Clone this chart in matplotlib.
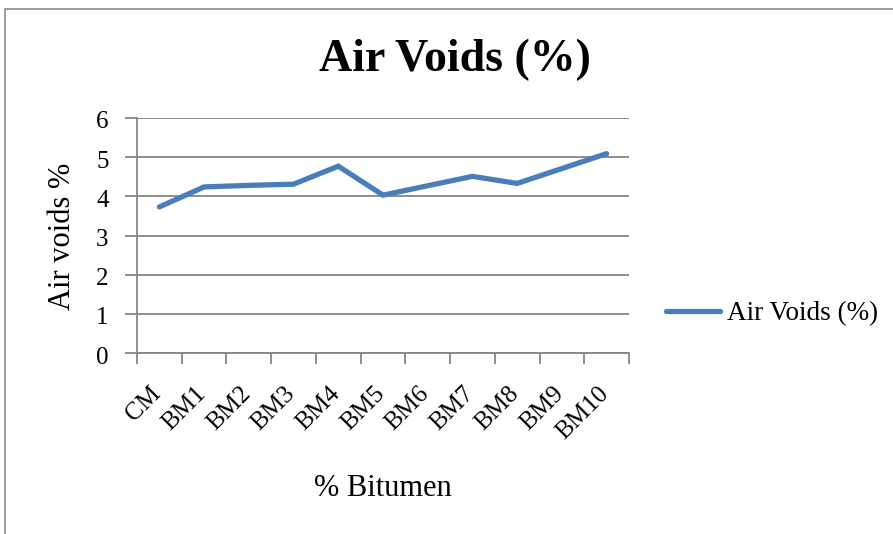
import matplotlib
matplotlib.use("Agg")
import matplotlib.pyplot as plt
import matplotlib.patches as mpatches
import matplotlib.transforms as mtransforms
import numpy as np

categories = ["CM", "BM1", "BM2", "BM3", "BM4", "BM5", "BM6", "BM7", "BM8", "BM9", "BM10"]
air_voids = [3.73, 4.24, 4.28, 4.31, 4.77, 4.03, 4.27, 4.51, 4.33, 4.71, 5.09]
y_ticks = [0, 1, 2, 3, 4, 5, 6]

plt.rcParams['font.family'] = ['Liberation Serif', 'DejaVu Serif']

W, H = 893, 534
fig = plt.figure(figsize=(W / 100, H / 100), dpi=100)

# outer chart border (clipped at right and bottom like the reference)
border = mpatches.Rectangle((5 / W, -0.1), 1.2, 1.1 - 9 / H, transform=fig.transFigure,
                            fill=False, edgecolor='#8c8c8c', linewidth=1.2)
fig.patches.append(border)

ax = fig.add_axes([137 / W, 1 - 353 / H, (629 - 137) / W, (353 - 118) / H])

x = np.arange(len(categories))
ax.plot(x, air_voids, color='#4A7EBB', linewidth=3.8, solid_capstyle='round',
        solid_joinstyle='miter', label='Air Voids (%)', zorder=3)

ax.set_xlim(-0.5, len(categories) - 0.5)
ax.set_ylim(0, 6)
ax.set_yticks(y_ticks)
ax.grid(axis='y', color='#868686', linewidth=1.3)
ax.set_axisbelow(True)

for side in ['top', 'right']:
    ax.spines[side].set_visible(False)
for side in ['left', 'bottom']:
    ax.spines[side].set_color('#868686')
    ax.spines[side].set_linewidth(1.3)

# ticks at category boundaries, labels at centres
ax.set_xticks(np.arange(len(categories) + 1) - 0.5)
ax.set_xticklabels([])
ax.set_xticks(x, minor=True)
ax.set_xticklabels(categories, minor=True, rotation=45, ha='right', va='top', fontsize=18)
ax.tick_params(axis='x', which='major', length=8, width=1.3, color='#868686')
ax.tick_params(axis='x', which='minor', length=0, pad=21)
ax.tick_params(axis='y', length=9, width=1.3, color='#868686', labelsize=18, pad=11.5)

offset = mtransforms.ScaledTranslation(6 / 100, 0, fig.dpi_scale_trans)
for lbl in ax.xaxis.get_minorticklabels():
    lbl.set_transform(lbl.get_transform() + offset)
yoff = mtransforms.ScaledTranslation(0, -2 / 100, fig.dpi_scale_trans)
for lbl in ax.yaxis.get_majorticklabels():
    lbl.set_transform(lbl.get_transform() + yoff)

fig.text(455 / W, 1 - 60 / H, "Air Voids (%)", ha='center', va='center',
         fontsize=33, fontweight='bold')
fig.text(62 / W, 1 - 236 / H, "Air voids %", ha='center', va='center',
         rotation=90, fontsize=22)
fig.text(383 / W, 1 - 488 / H, "% Bitumen", ha='center', va='center', fontsize=22)

fig.legend(loc='center left', bbox_to_anchor=(666 / W, 1 - 314 / H), frameon=False,
           fontsize=19.5, handlelength=2.0, handletextpad=0.25, borderpad=0,
           borderaxespad=0)

fig.savefig("out.png", dpi=100)
